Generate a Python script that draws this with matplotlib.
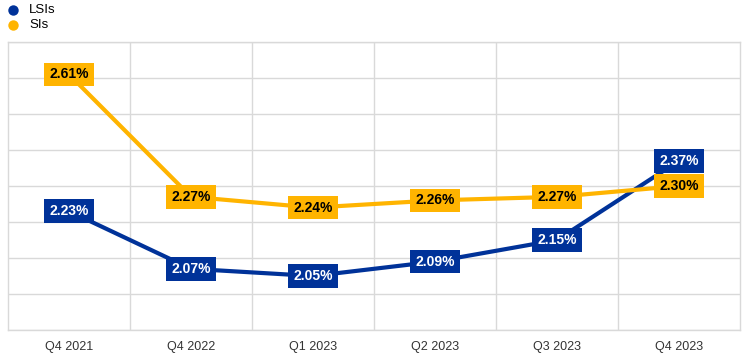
import matplotlib.pyplot as plt
from matplotlib.lines import Line2D
import numpy as np

quarters = ['Q4 2021', 'Q4 2022', 'Q1 2023', 'Q2 2023', 'Q3 2023', 'Q4 2023']
lsis = [2.23, 2.07, 2.05, 2.09, 2.15, 2.37]
sis = [2.61, 2.27, 2.24, 2.26, 2.27, 2.30]

blue = '#003299'
yellow = '#FFB400'
grid = '#d9d9d9'

plt.rcParams['font.family'] = ['Liberation Sans', 'DejaVu Sans']

fig = plt.figure(figsize=(7.44, 3.57), dpi=100)
ax = fig.add_axes([8 / 744, 27 / 357, 732 / 744, 288 / 357])

x = np.arange(len(quarters))
ax.plot(x, lsis, color=blue, lw=3, zorder=3, solid_capstyle='butt')
ax.plot(x, sis, color=yellow, lw=3, zorder=4, solid_capstyle='butt')

for xi, v in zip(x, lsis):
    ax.text(xi, v, '%.2f%%' % v, color='white', fontsize=10, fontweight='bold',
            ha='center', va='center', zorder=5,
            bbox=dict(boxstyle='square,pad=0.35', fc=blue, ec='none'))
for xi, v in zip(x, sis):
    ax.text(xi, v, '%.2f%%' % v, color='black', fontsize=10, fontweight='bold',
            ha='center', va='center', zorder=6,
            bbox=dict(boxstyle='square,pad=0.35', fc=yellow, ec='none'))

ax.set_xlim(-0.5, 5.5)
ax.set_ylim(1.9, 2.7)
ax.set_xticks(x)
ax.set_xticklabels(quarters, fontsize=9, color='#333333')
ax.set_xticks(np.arange(0.5, 5.5, 1), minor=True)
ax.set_yticks(np.arange(1.9, 2.71, 0.1))
ax.set_yticklabels([])
ax.tick_params(axis='both', which='both', length=0)
ax.tick_params(axis='x', pad=8)
ax.grid(True, which='minor', axis='x', color=grid, lw=1)
ax.grid(True, which='major', axis='y', color=grid, lw=1)
for s in ax.spines.values():
    s.set_color(grid)
    s.set_linewidth(1)

# legend drawn by hand, top-left
for name, col, py in [('LSIs', blue, 10), ('SIs', yellow, 25)]:
    yf = 1 - py / 357
    fig.add_artist(Line2D([13 / 744], [yf], marker='o', markersize=7.5, color=col,
                          markeredgewidth=0, transform=fig.transFigure))
    fig.text(29 / 744, yf, name, fontsize=9.5, ha='left', va='center')

fig.savefig('out.png', dpi=100)
